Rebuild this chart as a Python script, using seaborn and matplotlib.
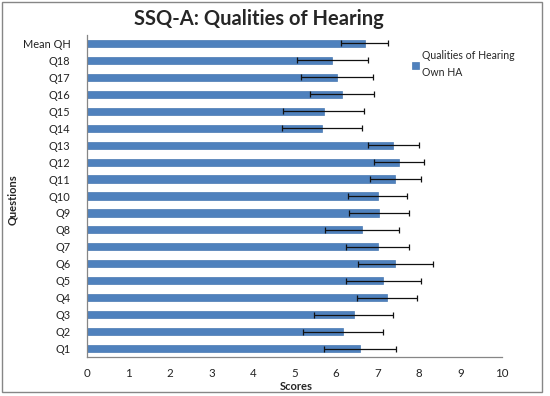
import matplotlib
matplotlib.use("Agg")
import matplotlib.pyplot as plt
import matplotlib.patches as patches
import seaborn as sns
import numpy as np
import pandas as pd

# values, Q1..Q18 then the mean
questions = ["Q1", "Q2", "Q3", "Q4", "Q5", "Q6", "Q7", "Q8", "Q9", "Q10",
             "Q11", "Q12", "Q13", "Q14", "Q15", "Q16", "Q17", "Q18", "Mean QH"]
scores = [6.58, 6.17, 6.43, 7.22, 7.14, 7.43, 7.00, 6.63, 7.04, 7.00,
          7.43, 7.52, 7.38, 5.66, 5.70, 6.15, 6.02, 5.91, 6.69]
errors = [0.87, 0.97, 0.95, 0.72, 0.90, 0.90, 0.77, 0.90, 0.72, 0.72,
          0.61, 0.61, 0.61, 0.97, 0.98, 0.77, 0.86, 0.86, 0.57]
series_label = "Qualities of Hearing\nOwn HA"
x_ticks = list(range(0, 11))

BAR = "#4F81BD"
AXIS = "#868686"

sns.set_theme(style="white")
plt.rcParams["font.family"] = ["Lato", "DejaVu Sans"]

df = pd.DataFrame({"Question": questions, "Score": scores, "Err": errors})
order = questions[::-1]  # Mean QH on top
df = df.set_index("Question").loc[order].reset_index()

fig = plt.figure(figsize=(5.5, 3.96), dpi=100)
ax = fig.add_axes([87 / 550, 0.0985, 415 / 550, 0.8131])

sns.barplot(data=df, x="Score", y="Question", order=order, color=BAR,
            width=0.42, errorbar=None, saturation=1, label=series_label,
            edgecolor="#4A7AB3", linewidth=0.5, ax=ax)
ax.errorbar(df["Score"], np.arange(len(df)), xerr=df["Err"], fmt="none",
            ecolor="#111111", elinewidth=0.9, capsize=2.2, capthick=0.9)

ax.set_xlim(0, 10)
ax.set_ylim(len(df) - 0.5, -0.5)
ax.set_xticks(x_ticks)
ax.set_xticklabels([str(t) for t in x_ticks], fontsize=8.3, color="#222222")
ax.tick_params(axis="x", direction="out", length=4, width=0.8, color=AXIS, pad=4)
ax.tick_params(axis="y", which="major", length=0, pad=12, labelsize=7.9,
               labelcolor="#222222")
ax.set_yticks(np.arange(-0.5, len(df), 1), minor=True)
ax.tick_params(axis="y", which="minor", direction="out", length=4, width=0.8, color=AXIS)

for s in ["top", "right"]:
    ax.spines[s].set_visible(False)
for s in ["left", "bottom"]:
    ax.spines[s].set_color(AXIS)
    ax.spines[s].set_linewidth(0.9)

ax.set_xlabel("")
ax.set_ylabel("")
fig.text(296 / 550, 1 - 386 / 396, "Scores", ha="center", va="center",
         fontsize=8, fontweight="bold")
fig.text(13 / 550, 1 - 200 / 396, "Questions", ha="center", va="center",
         rotation=90, fontsize=8, fontweight="bold")
fig.text(259 / 550, 1 - 19 / 396, "SSQ-A: Qualities of Hearing", ha="center",
         va="center", fontsize=14.5, fontweight="bold")

leg = ax.legend(loc="upper left", bbox_to_anchor=(0.774, 0.965), frameon=False,
                fontsize=7.6, handlelength=0.6, handleheight=0.6,
                handletextpad=0.3, borderaxespad=0)
for t in leg.get_texts():
    t.set_linespacing(1.65)

fig.patches.append(patches.Rectangle((2 / 550, 4 / 396), 540 / 550, 390 / 396,
                                     transform=fig.transFigure, fill=False,
                                     edgecolor=AXIS, linewidth=1))

fig.savefig("out.png", dpi=100, facecolor="white")
